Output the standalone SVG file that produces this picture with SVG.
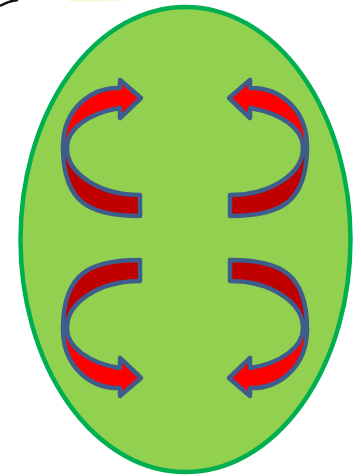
<svg xmlns="http://www.w3.org/2000/svg" width="361" height="476" viewBox="0 0 361 476">
  <defs>
    <style>
      .cell { fill: #92D050; stroke: #00B050; stroke-width: 4.5; }
      .front { fill: #FF0000; stroke: #3E5C8C; stroke-width: 4.5; stroke-linejoin: round; }
      .back { fill: #C00000; stroke: #3E5C8C; stroke-width: 4.5; stroke-linejoin: round; }
    </style>
    <g id="curvedArrow">
      <path class="back" d="M 63,147 C 63,203 90,216 140,216 L 140,195 A 73 47 0 0 1 67,147 Z"/>
      <path class="front" d="M 120,88 L 120,80 L 141,98 L 120,118 L 120,108 A 73 41 0 0 0 67,147 L 63,147 C 63,108 92,87 120,88 Z"/>
    </g>
  </defs>
  <rect width="361" height="476" fill="#FFFFFF"/>
  <g id="fragments">
    <path d="M 0,6 Q 8,1 18,0" fill="none" stroke="#111111" stroke-width="2.5"/>
    <path d="M 70,0 L 125,0 Q 110,2.5 70,1.5 Z" fill="#EEF5C0" opacity="0.6"/>
  </g>
  <g id="cell">
    <ellipse class="cell" cx="185.5" cy="239.5" rx="165" ry="232.5"/>
  </g>
  <g id="arrow-top-left">
    <use href="#curvedArrow"/>
  </g>
  <g id="arrow-top-right">
    <use href="#curvedArrow" transform="translate(370,0) scale(-1,1)"/>
  </g>
  <g id="arrow-bottom-left">
    <use href="#curvedArrow" transform="translate(0,476) scale(1,-1)"/>
  </g>
  <g id="arrow-bottom-right">
    <use href="#curvedArrow" transform="translate(370,476) scale(-1,-1)"/>
  </g>
</svg>
